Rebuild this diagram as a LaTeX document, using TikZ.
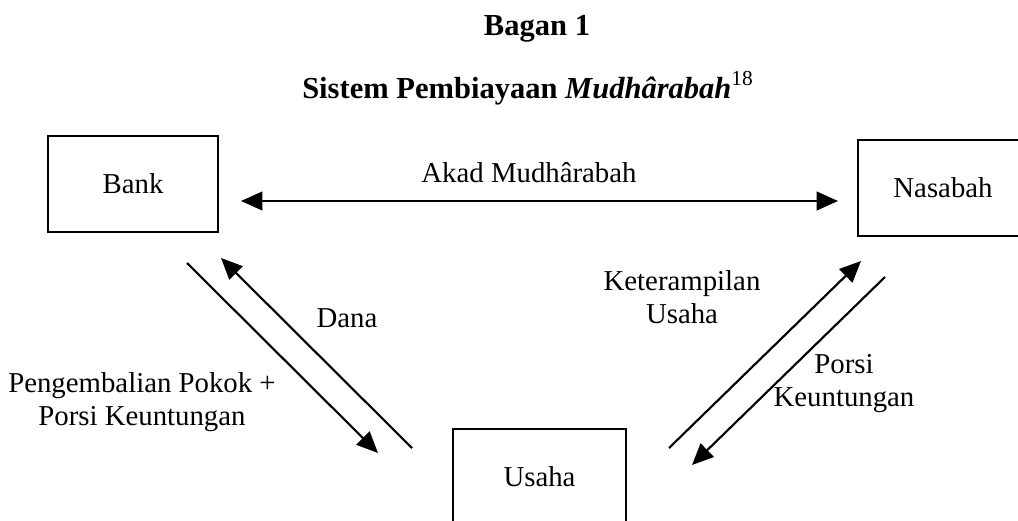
\documentclass[tikz,border=0pt]{standalone}
\usepackage{fontspec}
\setmainfont{Liberation Serif}
\usetikzlibrary{arrows.meta}
\newcommand\bodyfont{\fontsize{21.6pt}{24.75pt}\selectfont}
\newcommand\titlefont{\fontsize{22.9pt}{26pt}\selectfont\bfseries}
\tikzset{
  box/.style={draw, line width=1.2pt, minimum width=127.5pt, minimum height=72pt, inner sep=0pt, font=\bodyfont},
  lbl/.style={inner sep=0pt, anchor=base, align=center, font=\bodyfont},
  conn/.style={line width=1.6pt},
  tipend/.style={-{Triangle[length=16pt,width=14pt]}},
  tipboth/.style={{Triangle[length=16pt,width=14pt]}-{Triangle[length=16pt,width=14pt]}},
}
\begin{document}
\begin{tikzpicture}[x=0.75pt,y=-0.75pt]
\useasboundingbox (0,0) rectangle (1018,521);
\clip (0,0) rectangle (1018,521);
% titles
\node[inner sep=0pt, anchor=base, font=\titlefont] (t1) at (537,36) {Bagan 1};
\node[inner sep=0pt, anchor=base west, font=\titlefont] (t2) at (302,98) {Sistem Pembiayaan \textit{Mudh\^arabah}\textsuperscript{\mdseries\upshape 18}};
% boxes
\node[box] (bank) at (133,184) {Bank};
\node[box] (nasabah) at (943,188) {Nasabah};
\node[box, minimum width=129.75pt] (usaha) at (539.5,477) {Usaha};
% connector end points
\coordinate (ha) at (241,201);
\coordinate (hb) at (838,201);
\coordinate (l1s) at (187,263);
\coordinate (l1e) at (378,453);
\coordinate (l2s) at (412,448);
\coordinate (l2e) at (221,258);
\coordinate (r1s) at (669,448);
\coordinate (r1e) at (861,261);
\coordinate (r2s) at (885,277);
\coordinate (r2e) at (692,465);
% connectors
\draw[conn, tipboth] (ha) -- (hb);
\draw[conn, tipend] (l1s) -- (l1e);
\draw[conn, tipend] (l2s) -- (l2e);
\draw[conn, tipend] (r1s) -- (r1e);
\draw[conn, tipend] (r2s) -- (r2e);
% labels
\node[lbl] (akad) at (529,182) {Akad Mudh\^arabah};
\node[lbl] (dana) at (347,327) {Dana};
\node[lbl] (ket) at (682,323) {Keterampilan\\Usaha};
\node[lbl] (peng) at (142,425) {Pengembalian Pokok +\\Porsi Keuntungan};
\node[lbl] (porsi) at (844,406) {Porsi\\Keuntungan};
\end{tikzpicture}
\end{document}
